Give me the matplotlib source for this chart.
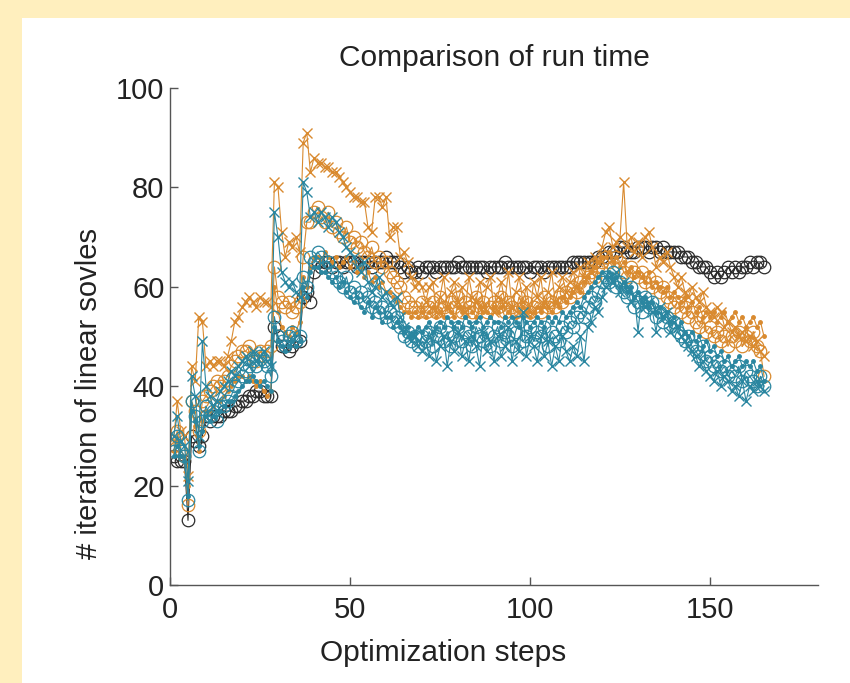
import numpy as np
import matplotlib.pyplot as plt
from matplotlib.patches import Rectangle

plt.rcParams['font.family'] = ['Liberation Sans', 'DejaVu Sans']

# optimisation steps 1..165
pasos = np.arange(1, 166)

base_negro = [
    26, 25, 25, 25, 13, 30, 29, 28, 30, 34,
    33, 34, 34, 34, 35, 35, 35, 36, 36, 37,
    37, 38, 38, 39, 39, 38, 38, 38, 52, 50,
    48, 48, 47, 48, 49, 49, 58, 59, 57, 63,
    65, 64, 65, 65, 64, 65, 65, 64, 65, 65,
    65, 64, 65, 65, 65, 64, 65, 65, 65, 66,
    65, 65, 65, 64, 63, 64, 63, 63, 64, 63,
    64, 64, 64, 63, 64, 64, 64, 64, 64, 65,
    64, 64, 64, 64, 64, 64, 64, 63, 64, 64,
    64, 64, 65, 64, 64, 64, 64, 64, 64, 63,
    64, 64, 64, 63, 64, 64, 64, 64, 64, 64,
    64, 65, 65, 65, 65, 65, 65, 65, 66, 66,
    66, 67, 67, 67, 68, 68, 67, 67, 67, 68,
    68, 68, 67, 68, 68, 67, 68, 67, 67, 67,
    67, 66, 66, 66, 65, 65, 64, 64, 64, 63,
    62, 63, 62, 63, 64, 63, 64, 63, 64, 64,
    65, 64, 65, 65, 64]

naranja_x = [
    29, 37, 31, 30, 22, 44, 41, 54, 53, 44,
    45, 44, 45, 45, 44, 46, 49, 53, 54, 56,
    57, 58, 57, 56, 58, 57, 57, 56, 81, 80,
    71, 66, 69, 68, 70, 67, 89, 91, 83, 86,
    85, 85, 84, 84, 83, 83, 82, 81, 80, 79,
    78, 78, 77, 77, 72, 71, 78, 78, 76, 78,
    70, 72, 72, 66, 67, 65, 62, 60, 61, 60,
    57, 60, 61, 55, 58, 62, 56, 59, 61, 57,
    60, 55, 62, 58, 57, 61, 56, 60, 62, 55,
    58, 61, 57, 63, 56, 59, 62, 57, 60, 55,
    61, 58, 62, 56, 59, 63, 57, 60, 62, 59,
    61, 63, 60, 64, 62, 65, 63, 66, 65, 68,
    71, 72, 68, 69, 70, 81, 68, 70, 67, 69,
    66, 70, 71, 68, 64, 66, 65, 67, 64, 62,
    60, 62, 59, 58, 60, 58, 57, 59, 56, 55,
    54, 56, 55, 52, 53, 51, 52, 50, 51, 49,
    50, 48, 49, 47, 46]

naranja_o = [
    28, 31, 27, 26, 16, 37, 35, 31, 37, 38,
    39, 40, 41, 40, 41, 42, 44, 45, 46, 47,
    47, 48, 46, 45, 47, 46, 47, 48, 64, 58,
    57, 56, 57, 55, 56, 57, 66, 73, 73, 75,
    76, 74, 73, 75, 72, 73, 71, 70, 72, 69,
    70, 68, 69, 67, 66, 68, 65, 66, 64, 65,
    63, 62, 61, 60, 58, 57, 56, 56, 55, 57,
    55, 56, 57, 55, 58, 56, 55, 57, 56, 58,
    55, 57, 56, 55, 58, 56, 57, 55, 56, 57,
    56, 58, 55, 57, 56, 55, 58, 56, 57, 55,
    56, 57, 55, 58, 56, 57, 56, 58, 57, 59,
    58, 60, 59, 61, 60, 62, 63, 62, 64, 65,
    66, 65, 64, 66, 65, 63, 62, 64, 63, 62,
    63, 61, 62, 60, 61, 59, 60, 58, 57, 56,
    57, 55, 56, 54, 55, 53, 52, 54, 51, 52,
    50, 51, 49, 50, 48, 50, 49, 51, 48, 50,
    49, 51, 48, 47, 42]

naranja_p = [
    27, 29, 26, 25, 20, 35, 32, 27, 33, 35,
    35, 36, 37, 37, 38, 39, 40, 41, 42, 42,
    41, 42, 41, 40, 41, 39, 38, 39, 60, 55,
    52, 51, 50, 52, 51, 53, 62, 60, 64, 66,
    66, 65, 67, 66, 65, 66, 64, 65, 66, 64,
    65, 63, 64, 62, 63, 61, 62, 60, 61, 59,
    59, 58, 57, 56, 55, 55, 54, 55, 54, 55,
    54, 55, 56, 54, 55, 54, 56, 55, 54, 56,
    55, 54, 56, 55, 54, 56, 55, 55, 54, 56,
    55, 56, 54, 55, 56, 54, 55, 56, 55, 54,
    55, 56, 55, 57, 56, 55, 57, 56, 58, 57,
    58, 59, 60, 59, 61, 62, 63, 64, 65, 66,
    66, 67, 65, 66, 64, 65, 63, 64, 62, 63,
    62, 61, 63, 60, 61, 60, 59, 60, 58, 59,
    58, 57, 58, 56, 57, 55, 56, 54, 55, 54,
    55, 53, 54, 55, 53, 54, 55, 53, 54, 52,
    53, 54, 52, 53, 50]

azul_x = [
    30, 34, 29, 28, 21, 42, 38, 30, 49, 40,
    38, 36, 37, 39, 40, 41, 43, 42, 44, 45,
    46, 44, 47, 45, 46, 47, 45, 44, 75, 70,
    63, 61, 60, 61, 59, 58, 81, 79, 74, 75,
    73, 75, 74, 72, 74, 73, 71, 70, 68, 67,
    66, 64, 63, 65, 61, 59, 60, 62, 58, 59,
    57, 56, 58, 54, 52, 50, 49, 50, 48, 47,
    49, 46, 51, 45, 48, 50, 44, 49, 47, 51,
    46, 49, 45, 50, 48, 44, 51, 47, 49, 45,
    50, 46, 48, 52, 45, 49, 47, 55, 46, 50,
    48, 45, 50, 46, 49, 44, 48, 45, 50, 47,
    45, 48, 46, 50, 45, 52, 53, 56, 55, 58,
    60, 62, 61, 63, 59, 61, 60, 57, 58, 51,
    58, 56, 57, 55, 51, 56, 54, 55, 51, 53,
    52, 50, 49, 48, 47, 46, 44, 45, 43, 42,
    41, 43, 40, 42, 41, 39, 40, 38, 41, 37,
    40, 39, 41, 40, 39]

azul_o = [
    27, 30, 27, 26, 17, 37, 34, 27, 33, 36,
    34, 35, 33, 36, 36, 37, 38, 40, 41, 42,
    43, 44, 45, 44, 46, 45, 44, 42, 54, 50,
    49, 48, 50, 51, 49, 50, 62, 60, 66, 65,
    67, 66, 64, 65, 63, 62, 61, 60, 62, 59,
    60, 58, 59, 57, 58, 56, 57, 55, 56, 54,
    55, 53, 54, 52, 50, 51, 49, 50, 48, 50,
    49, 51, 48, 50, 52, 49, 51, 48, 50, 52,
    49, 51, 50, 48, 52, 50, 49, 51, 48, 50,
    52, 49, 51, 50, 48, 51, 53, 49, 50, 52,
    49, 51, 50, 52, 48, 51, 50, 49, 52, 51,
    53, 52, 54, 55, 54, 56, 58, 57, 59, 61,
    62, 61, 63, 60, 61, 59, 58, 60, 56, 57,
    55, 58, 56, 57, 54, 55, 53, 54, 52, 53,
    51, 50, 49, 50, 48, 47, 46, 48, 45, 46,
    44, 45, 43, 44, 42, 43, 42, 44, 41, 43,
    42, 41, 40, 42, 40]

azul_p = [
    26, 28, 26, 25, 18, 35, 33, 28, 31, 34,
    33, 34, 35, 35, 36, 37, 37, 38, 39, 40,
    41, 41, 42, 41, 40, 41, 40, 39, 52, 49,
    48, 47, 48, 49, 48, 49, 60, 58, 63, 64,
    64, 63, 63, 62, 61, 62, 60, 61, 59, 58,
    57, 58, 56, 55, 57, 54, 56, 55, 53, 54,
    54, 52, 53, 52, 51, 52, 50, 51, 52, 51,
    52, 53, 51, 52, 53, 52, 54, 53, 52, 53,
    52, 54, 53, 52, 53, 54, 52, 53, 54, 53,
    53, 52, 54, 53, 54, 53, 52, 54, 53, 52,
    53, 54, 53, 52, 54, 53, 54, 53, 55, 54,
    55, 56, 57, 56, 58, 59, 60, 61, 62, 63,
    62, 63, 61, 62, 60, 61, 59, 60, 58, 59,
    57, 58, 56, 57, 55, 56, 54, 55, 53, 54,
    52, 53, 51, 50, 51, 49, 50, 48, 49, 47,
    48, 46, 47, 45, 46, 44, 45, 46, 44, 45,
    44, 45, 43, 44, 41]

NEGRO = "#2b2b2b"
NARANJA = "#d98a2f"
AZUL = "#2a86a0"

fig = plt.figure(figsize=(8.5, 6.83), dpi=100)
fig.patch.set_facecolor("#ffefbe")
fig.patches.append(Rectangle((22 / 850, 0), 1 - 22 / 850, (683 - 18) / 683,
                             transform=fig.transFigure, facecolor="white",
                             edgecolor="none", zorder=-10))

ax = fig.add_axes([0.2, 0.1435, 0.7624, 0.7277])
ax.set_zorder(5)

ax.plot(pasos, base_negro, "-o", color=NEGRO, mfc="none", ms=9, mew=0.9, lw=0.8)
ax.plot(pasos, naranja_x, "-x", color=NARANJA, ms=7, mew=1.0, lw=0.8)
ax.plot(pasos, naranja_o, "-o", color=NARANJA, mfc="none", ms=9, mew=0.9, lw=0.8)
ax.plot(pasos, naranja_p, "-o", color=NARANJA, ms=2.5, lw=0.8)
ax.plot(pasos, azul_x, "-x", color=AZUL, ms=7, mew=1.0, lw=0.8)
ax.plot(pasos, azul_o, "-o", color=AZUL, mfc="none", ms=9, mew=0.9, lw=0.8)
ax.plot(pasos, azul_p, "-o", color=AZUL, ms=2.5, lw=0.8)

ax.set_xlim(0, 180)
ax.set_ylim(0, 100)
ax.set_xticks([0, 50, 100, 150])
ax.set_yticks([0, 20, 40, 60, 80, 100])
ax.spines["top"].set_visible(False)
ax.spines["right"].set_visible(False)
for s in ("left", "bottom"):
    ax.spines[s].set_color("#555555")
    ax.spines[s].set_linewidth(1.0)
ax.tick_params(direction="in", length=6, width=1.0, color="#555555",
               labelsize=21, labelcolor="#222222")
ax.tick_params(axis="x", pad=8)
ax.tick_params(axis="y", pad=4)

ax.set_title("Comparison of run time", fontsize=21.5, color="#222222", pad=16)
ax.set_xlabel("Optimization steps", fontsize=21.5, color="#222222")
ax.set_ylabel("# iteration of linear sovles", fontsize=21, color="#222222")
ax.xaxis.set_label_coords(0.421, -0.108)
ax.yaxis.set_label_coords(-0.104, 0.386)

fig.savefig("out.png", dpi=100, facecolor=fig.get_facecolor())
